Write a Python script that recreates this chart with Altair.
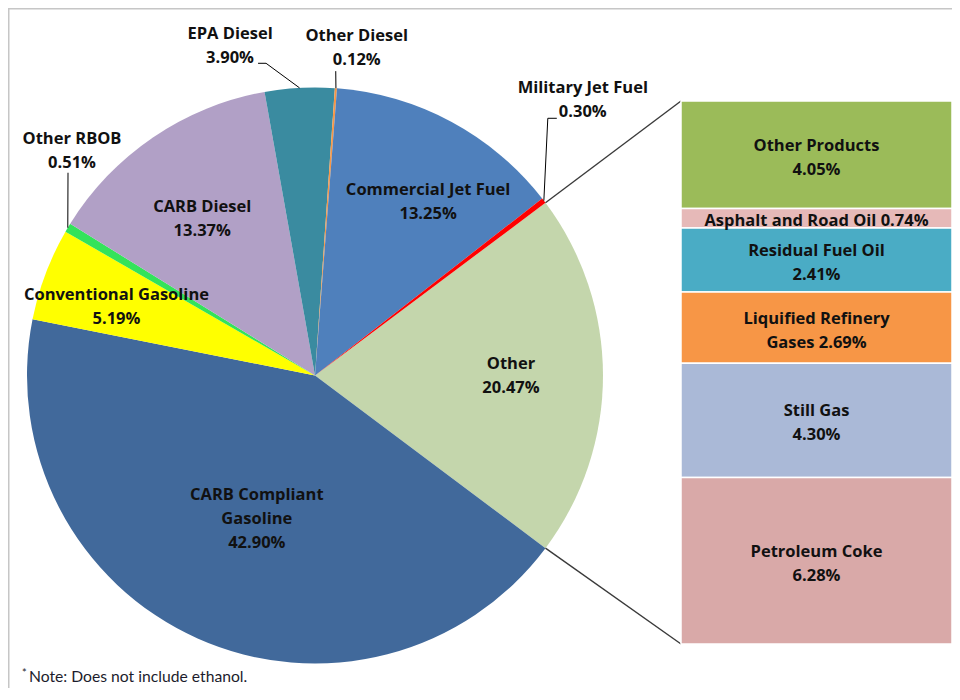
import math
import altair as alt
import pandas as pd

# ---------------- data ----------------
# pie slices, clockwise starting with the combined "Other" slice
pie_names = ["Other", "CARB Compliant Gasoline", "Conventional Gasoline", "Other RBOB",
             "CARB Diesel", "EPA Diesel", "Other Diesel", "Commercial Jet Fuel",
             "Military Jet Fuel"]
pie_values = [20.47, 42.90, 5.19, 0.51, 13.37, 3.90, 0.12, 13.25, 0.30]
pie_labels = ["Other\n20.47%", "CARB Compliant\nGasoline\n42.90%", "Conventional Gasoline\n5.19%",
              "Other RBOB\n0.51%", "CARB Diesel\n13.37%", "EPA Diesel\n3.90%",
              "Other Diesel\n0.12%", "Commercial Jet Fuel\n13.25%", "Military Jet Fuel\n0.30%"]
pie_colors = ["#c4d6ac", "#41699b", "#ffff00", "#33e35a", "#b1a0c6", "#3a8ba0",
              "#f79646", "#4f80bc", "#ff0000"]

# breakdown of "Other" shown in the bar, top to bottom
bar_names = ["Other Products", "Asphalt and Road Oil", "Residual Fuel Oil",
             "Liquified Refinery Gases", "Still Gas", "Petroleum Coke"]
bar_values = [4.05, 0.74, 2.41, 2.69, 4.30, 6.28]
bar_labels = ["Other Products\n4.05%", "Asphalt and Road Oil 0.74%", "Residual Fuel Oil\n2.41%",
              "Liquified Refinery\nGases 2.69%", "Still Gas\n4.30%", "Petroleum Coke\n6.28%"]
bar_colors = ["#9bbb59", "#e6b9b8", "#4aacc5", "#f79646", "#aab9d7", "#d9a9a8"]

note_text = "Note: Does not include ethanol."

# ---------------- layout ----------------
W, H = 944, 680
CX, CY, R = 307, 367.5, 288
BAR_X0, BAR_X1, BAR_Y0, BAR_Y1 = 673, 944, 93, 636
FONT = "Open Sans"
FS = 16.5
LH = 24
TXT = "#111111"

# label placement: (radius from centre, angle nudge in degrees from slice middle)
label_place = {
    "Other": (196, 0), "CARB Compliant Gasoline": (155, -2.0),
    "Conventional Gasoline": (210, -1.6), "Other RBOB": (331, 11.9),
    "CARB Diesel": (193, -1.6), "EPA Diesel": (340, -11.4),
    "Other Diesel": (330, 3.1), "Commercial Jet Fuel": (207, 4.9),
    "Military Jet Fuel": (384, -8.4),
}
# leader start points relative to label centre
leader_start = {
    "EPA Diesel": [(28, 17), (36, 17)],
    "Other Diesel": [(-21, 23)],
    "Military Jet Fuel": [(-26, 18), (-35, 18)],
    "Other RBOB": [(-4, 22)],
}

total = sum(pie_values)
start_deg = 90 - pie_values[0] / total * 360 / 2
a0 = math.radians(start_deg)


def polar(r, deg):
    t = math.radians(deg)
    return CX + r * math.sin(t), CY - r * math.cos(t)


# slice angles from data
mids = {}
acc = start_deg
for n, v in zip(pie_names, pie_values):
    span = v / total * 360
    mids[n] = acc + span / 2
    acc += span

pie_df = pd.DataFrame({"name": pie_names, "value": pie_values,
                       "idx": list(range(len(pie_names))), "color": pie_colors})

lab_rows = []
for n, lab in zip(pie_names, pie_labels):
    r, nud = label_place[n]
    px, py = polar(r, mids[n] + nud)
    nl = lab.count("\n") + 1
    lab_rows.append({"label": lab, "px": px, "py": py - (nl - 1) * LH / 2})
lab_df = pd.DataFrame(lab_rows)

line_rows = []
for n, pts in leader_start.items():
    r, nud = label_place[n]
    lx, ly = polar(r, mids[n] + nud)
    k = 0
    for dx, dy in pts:
        line_rows.append({"lid": n, "ord": k, "px": lx + dx, "py": ly + dy})
        k += 1
    ex, ey = polar(R, mids[n])
    line_rows.append({"lid": n, "ord": k, "px": ex, "py": ey})
line_df = pd.DataFrame(line_rows)

# connectors from the "Other" slice edges to the bar corners
other_span = pie_values[0] / total * 360
e1 = polar(R, start_deg)
e2 = polar(R, start_deg + other_span)
conn_df = pd.DataFrame([
    {"lid": "c1", "ord": 0, "px": e1[0], "py": e1[1]},
    {"lid": "c1", "ord": 1, "px": BAR_X0, "py": BAR_Y0},
    {"lid": "c2", "ord": 0, "px": e2[0], "py": e2[1]},
    {"lid": "c2", "ord": 1, "px": BAR_X0, "py": BAR_Y1},
])

bar_df = pd.DataFrame({"name": bar_names, "value": bar_values, "label": bar_labels,
                       "color": bar_colors})
bar_df["end"] = bar_df["value"].cumsum()
bar_df["start"] = bar_df["end"] - bar_df["value"]
bar_df["mid"] = bar_df["start"] + bar_df["value"] / 2
bar_df["nlines"] = [s.count("\n") + 1 for s in bar_labels]

# ---------------- chart ----------------
arc = alt.Chart(pie_df).mark_arc(outerRadius=R).encode(
    theta=alt.Theta("value:Q", stack=True,
                    scale=alt.Scale(domain=[0, total], range=[a0, a0 + 2 * math.pi])),
    order=alt.Order("idx:Q", sort="ascending"),
    color=alt.Color("color:N", scale=None),
    x=alt.value(CX), y=alt.value(CY),
)

leaders = alt.Chart(line_df).mark_line(color="#000000", strokeWidth=1).encode(
    x=alt.X("px:Q", scale=None, axis=None),
    y=alt.Y("py:Q", scale=None, axis=None),
    detail="lid:N", order="ord:Q",
)

connectors = alt.Chart(conn_df).mark_line(color="#3a3a3a", strokeWidth=1.4).encode(
    x=alt.X("px:Q", scale=None, axis=None),
    y=alt.Y("py:Q", scale=None, axis=None),
    detail="lid:N", order="ord:Q",
)

pie_text = alt.Chart(lab_df).mark_text(
    font=FONT, fontSize=FS, fontWeight="bold", color=TXT, lineBreak="\n",
    lineHeight=LH, align="center", baseline="middle",
).encode(
    x=alt.X("px:Q", scale=None, axis=None),
    y=alt.Y("py:Q", scale=None, axis=None),
    text="label:N",
)

ysc = alt.Scale(domain=[0, sum(bar_values)], range=[BAR_Y0, BAR_Y1], nice=False, zero=False)

bars = alt.Chart(bar_df).mark_bar(stroke="white", strokeWidth=1.5).encode(
    x=alt.value(BAR_X0), x2=alt.value(BAR_X1),
    y=alt.Y("start:Q", scale=ysc, axis=None), y2="end:Q",
    color=alt.Color("color:N", scale=None),
)

bar_text2 = alt.Chart(bar_df).transform_filter("datum.nlines == 2").mark_text(
    font=FONT, fontSize=FS, fontWeight="bold", color=TXT, lineBreak="\n",
    lineHeight=LH, align="center", baseline="middle", dy=3 - LH / 2,
).encode(
    x=alt.value((BAR_X0 + BAR_X1) / 2),
    y=alt.Y("mid:Q", scale=ysc, axis=None),
    text="label:N",
)
bar_text1 = alt.Chart(bar_df).transform_filter("datum.nlines == 1").mark_text(
    font=FONT, fontSize=FS, fontWeight="bold", color=TXT,
    align="center", baseline="middle", dy=3,
).encode(
    x=alt.value((BAR_X0 + BAR_X1) / 2),
    y=alt.Y("mid:Q", scale=ysc, axis=None),
    text="label:N",
)

one = pd.DataFrame({"a": [0]})
frame_left = alt.Chart(one).mark_rule(color="#c6c6c6", strokeWidth=1.5).encode(
    x=alt.value(0.75), y=alt.value(0), y2=alt.value(H))
frame_top = alt.Chart(one).mark_rule(color="#c6c6c6", strokeWidth=1.5).encode(
    y=alt.value(0.75), x=alt.value(0), x2=alt.value(W))

note = alt.Chart(one).mark_text(
    text=note_text, font="Lato", fontSize=15.7, color="#1c1c2c", align="left", baseline="middle",
).encode(x=alt.value(21), y=alt.value(669))
star = alt.Chart(one).mark_text(
    text="*", font="Lato", fontSize=11, color="#1c1c2c", align="left", baseline="middle",
).encode(x=alt.value(14), y=alt.value(666))

chart = alt.layer(
    frame_left, frame_top, arc, connectors, leaders, bars, pie_text, bar_text2, bar_text1,
    note, star
).properties(
    width=W, height=H, padding=0,
    autosize=alt.AutoSizeParams(type="none"),
).configure_view(strokeWidth=0)

chart.save("out.html", embed_options={"renderer": "svg", "actions": False})
